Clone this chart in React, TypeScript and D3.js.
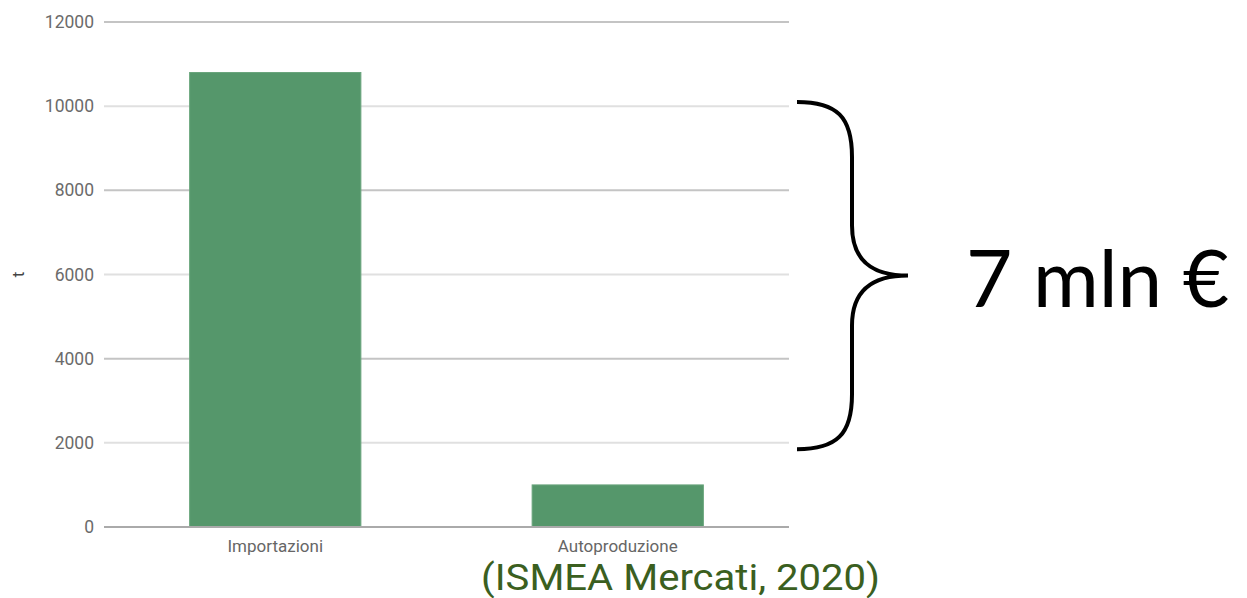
import React from "react";
import * as d3 from "d3";

const categories = ["Importazioni", "Autoproduzione"];
const values = [10800, 1000];
const yTicks = [0, 2000, 4000, 6000, 8000, 10000, 12000];
const axisTitle = "t";
const sourceLabel = "(ISMEA Mercati, 2020)";
const braceLabel = "7 mln €";

const W = 1247;
const H = 598;
const plot = { left: 104, right: 789, top: 22, bottom: 527 };

export default function App() {
  const x = d3
    .scaleBand<string>()
    .domain(categories)
    .range([plot.left, plot.right])
    .paddingInner(0.5)
    .paddingOuter(0.25);
  const y = d3.scaleLinear().domain([0, 12000]).range([plot.bottom, plot.top]);

  // curly brace geometry relative to chart
  const bx0 = 797;
  const bxv = 852;
  const bxt = 908;
  const by0 = y(10100);
  const by1 = y(1850);
  const bym = (by0 + by1) / 2;
  const bracePath = [
    `M${bx0},${by0}`,
    `C${bx0 + 40},${by0} ${bxv},${by0 + 15} ${bxv},${by0 + 55}`,
    `L${bxv},${bym - 50}`,
    `C${bxv},${bym - 15} ${bxv + 20},${bym} ${bxt},${bym}`,
    `C${bxv + 20},${bym} ${bxv},${bym + 15} ${bxv},${bym + 50}`,
    `L${bxv},${by1 - 55}`,
    `C${bxv},${by1 - 15} ${bx0 + 40},${by1} ${bx0},${by1}`,
  ].join(" ");

  return (
    <svg
      width={W}
      height={H}
      style={{ position: "absolute", left: 0, top: 0, background: "#fff" }}
    >
      {yTicks.map((t, i) => (
        <g key={t}>
          <line
            x1={plot.left}
            x2={plot.right}
            y1={y(t)}
            y2={y(t)}
            stroke={t === 0 ? "#aaaaaa" : i % 2 === 0 ? "#c4c4c4" : "#e0e0e0"}
            strokeWidth={2}
          />
          <text
            x={94}
            y={y(t)}
            dy="0.35em"
            textAnchor="end"
            fontFamily="Roboto, sans-serif"
            fontSize={17.5}
            fill="#6b6b6b"
          >
            {t}
          </text>
        </g>
      ))}
      <text
        transform={`translate(24,${(plot.top + plot.bottom) / 2}) rotate(-90)`}
        textAnchor="middle"
        fontFamily="Roboto, sans-serif"
        fontSize={17}
        fill="#444"
      >
        {axisTitle}
      </text>
      {categories.map((c, i) => (
        <g key={c}>
          <rect
            x={x(c)}
            y={y(values[i])}
            width={x.bandwidth()}
            height={y(0) - y(values[i])}
            fill="#55976b"
            stroke="#6aa57d"
            strokeWidth={1}
          />
          <text
            x={(x(c) as number) + x.bandwidth() / 2}
            y={552}
            textAnchor="middle"
            fontFamily="Roboto, sans-serif"
            fontSize={17}
            fill="#666"
          >
            {c}
          </text>
        </g>
      ))}
      <line
        x1={plot.left}
        x2={plot.right}
        y1={y(0)}
        y2={y(0)}
        stroke="#aaaaaa"
        strokeWidth={2}
      />
      <text
        x={481}
        y={590}
        textLength={399}
        lengthAdjust="spacingAndGlyphs"
        fontFamily="'Liberation Sans Narrow', 'Roboto', sans-serif"
        fontSize={36}
        fill="#3b5f1f"
      >
        {sourceLabel}
      </text>
      <path d={bracePath} fill="none" stroke="#000" strokeWidth={4} />
      <text
        x={966}
        y={307}
        fontFamily="Lato, 'Open Sans', sans-serif"
        fontSize={80}
        fill="#000"
      >
        {braceLabel}
      </text>
    </svg>
  );
}
